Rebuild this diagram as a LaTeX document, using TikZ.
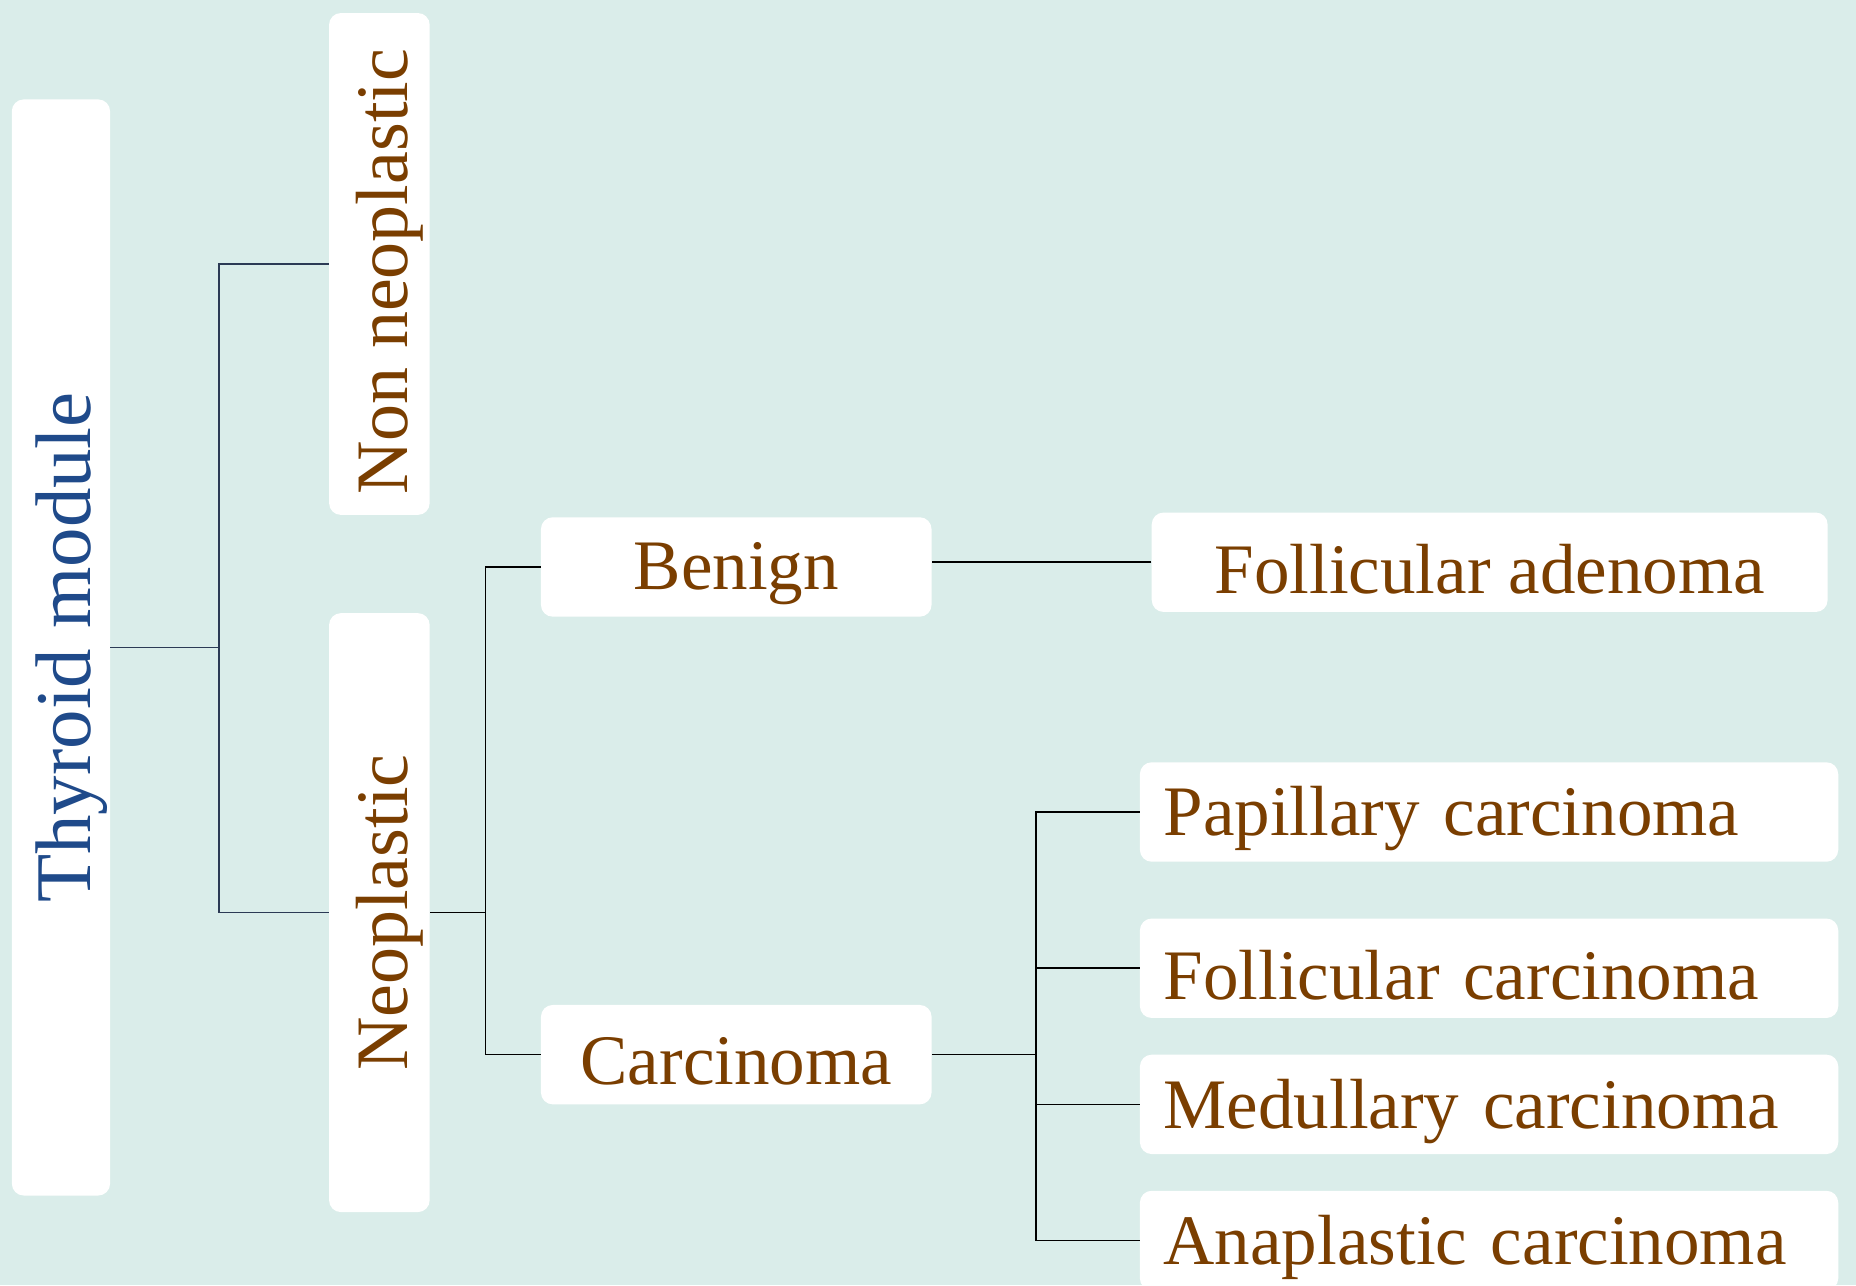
\documentclass[tikz,border=0pt]{standalone}
\usepackage{fontspec}
\setmainfont{Liberation Serif}
\definecolor{bgc}{HTML}{DAEDEA}
\definecolor{brownt}{HTML}{7A3E00}
\definecolor{bluet}{HTML}{1F4A8A}
\definecolor{navyl}{HTML}{2B3A55}
\newsavebox{\tbx}
% \shtext{dx}{dy-down}{text}: shift text inside its own box, keeping box size
\newcommand{\shtext}[3]{\sbox{\tbx}{#3}\hbox to \wd\tbx{\hskip #1\relax\raisebox{-#2}[\ht\tbx][\dp\tbx]{\usebox{\tbx}}\hss}}
\begin{document}
\begin{tikzpicture}[x=0.6pt,y=-0.6pt,
  box/.style={fill=white, draw=none, rounded corners=6pt, inner sep=0pt, text=brownt,
     font=\fontsize{36}{40}\selectfont},
  hbox/.style={box, minimum width=198pt, minimum height=50.4pt},
  vbox/.style={box, rotate=90, minimum height=51pt, font=\fontsize{37.5}{42}\selectfont},
  leaf/.style={box, minimum height=50.4pt, text width=330pt, align=left, inner xsep=12pt},
  conn/.style={draw=black, line width=0.8pt},
  connb/.style={draw=navyl, line width=0.8pt}]
\fill[bgc] (0,0) rectangle (1568,1086);
\useasboundingbox (0,0) rectangle (1568,1086);
% nodes
\node[box, rotate=90, minimum width=555.6pt, minimum height=49.8pt, text=bluet,
      font=\fontsize{40}{46}\selectfont] (thy) at (51.5,547) {\shtext{0pt}{5.4pt}{Thyroid module}};
\node[vbox, minimum width=254.4pt] (non) at (320.5,223) {\shtext{-4pt}{5pt}{Non neoplastic}};
\node[vbox, minimum width=303.6pt] (neo) at (320.5,771) {\shtext{0pt}{5pt}{Neoplastic}};
\node[hbox] (ben) at (622,479) {\shtext{0pt}{3.5pt}{Benign}};
\node[hbox] (car) at (622,891) {\shtext{0pt}{3.5pt}{Carcinoma}};
\node[box, minimum width=342.6pt, minimum height=50.4pt] (fa) at (1258.5,475) {\shtext{0pt}{3.5pt}{Follicular adenoma}};
\node[leaf] (pap) at (1258,686) {\shtext{0pt}{3.5pt}{Papillary carcinoma}};
\node[leaf] (fol) at (1258,818) {\shtext{0pt}{3.5pt}{Follicular carcinoma}};
\node[leaf] (med) at (1258,933) {\shtext{0pt}{3.5pt}{Medullary carcinoma}};
\node[leaf] (ana) at (1258,1048) {\shtext{0pt}{3.5pt}{Anaplastic carcinoma}};
% junctions
\coordinate (j1) at (185,547);
\coordinate (j2) at (410,771);
\coordinate (j3) at (875,891);
% connectors
\draw[connb] (thy.south) -- (j1);
\draw[connb] (non.north) -| (j1);
\draw[connb] (neo.north) -| (j1);
\draw[conn] (neo.south) -- (j2);
\draw[conn] (ben.west) -| (j2);
\draw[conn] (car.west) -| (j2);
\draw[conn] (fa.west) -- (fa.west -| ben.east);
\draw[conn] (car.east) -- (j3);
\draw[conn] (pap.west) -| (j3);
\draw[conn] (fol.west) -| (j3);
\draw[conn] (med.west) -| (j3);
\draw[conn] (ana.west) -| (j3);
\end{tikzpicture}
\end{document}
